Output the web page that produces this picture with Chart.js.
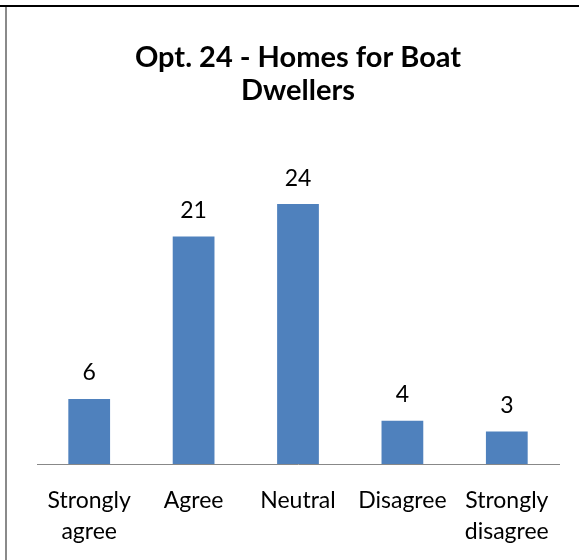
<!DOCTYPE html>
<html>
<head>
<meta charset="utf-8">
<script src="https://cdn.jsdelivr.net/npm/chart.js@4"></script>
<style>
  html, body { margin: 0; padding: 0; background: #fff; }
  #wrap { position: relative; width: 579px; height: 560px; overflow: hidden; }
  #wrap canvas { position: absolute; left: 0; top: 0; }
  .top-rule { position: absolute; left: 0; top: 5px; width: 579px; height: 2px; background: #000; }
  .left-rule { position: absolute; left: 5px; top: 7px; width: 2px; height: 553px; background: #8a8a8a; }
</style>
</head>
<body>
<div id="wrap">
  <canvas id="chart" width="579" height="560"></canvas>
  <div class="top-rule"></div>
  <div class="left-rule"></div>
</div>
<script>
// ── data ──
const categories = [['Strongly', 'agree'], 'Agree', 'Neutral', 'Disagree', ['Strongly', 'disagree']];
const responses = [6, 21, 24, 4, 3];
const titleLines = ['Opt. 24 - Homes for Boat', 'Dwellers'];

const FONT = 'Lato, "Open Sans", sans-serif';
const BAR = '#4F81BD';

// value labels above each bar
const valueLabels = {
    id: 'valueLabels',
    afterDatasetsDraw(chart) {
        const ctx = chart.ctx;
        const meta = chart.getDatasetMeta(0);
        ctx.save();
        ctx.font = '23px ' + FONT;
        ctx.fillStyle = '#000';
        ctx.textAlign = 'center';
        ctx.textBaseline = 'middle';
        meta.data.forEach((bar, i) => {
            ctx.fillText(String(responses[i]), bar.x, bar.y - 26);
        });
        ctx.restore();
    }
};

new Chart(document.getElementById('chart'), {
    type: 'bar',
    data: {
        labels: categories,
        datasets: [{
            data: responses,
            backgroundColor: BAR,
            borderWidth: 0,
            barPercentage: 0.4,
            categoryPercentage: 1
        }]
    },
    options: {
        responsive: false,
        animation: false,
        layout: {
            padding: { left: 37, right: 20, top: 0, bottom: 0 }
        },
        plugins: {
            legend: { display: false },
            tooltip: { enabled: false },
            title: {
                display: true,
                text: titleLines,
                color: '#000',
                font: { family: FONT, size: 29, weight: 'bold', lineHeight: 1.14 },
                padding: { top: 41, bottom: 32 }
            }
        },
        scales: {
            x: {
                afterFit(scale) { scale.height = 96; },
                grid: { display: false },
                border: { display: true, color: '#888', width: 1 },
                ticks: {
                    color: '#000',
                    padding: 13,
                    maxRotation: 0,
                    autoSkip: false,
                    font: { family: FONT, size: 23, lineHeight: 1.35 }
                }
            },
            y: {
                display: false,
                min: 0,
                max: 30
            }
        }
    },
    plugins: [valueLabels]
});
</script>
</body>
</html>
